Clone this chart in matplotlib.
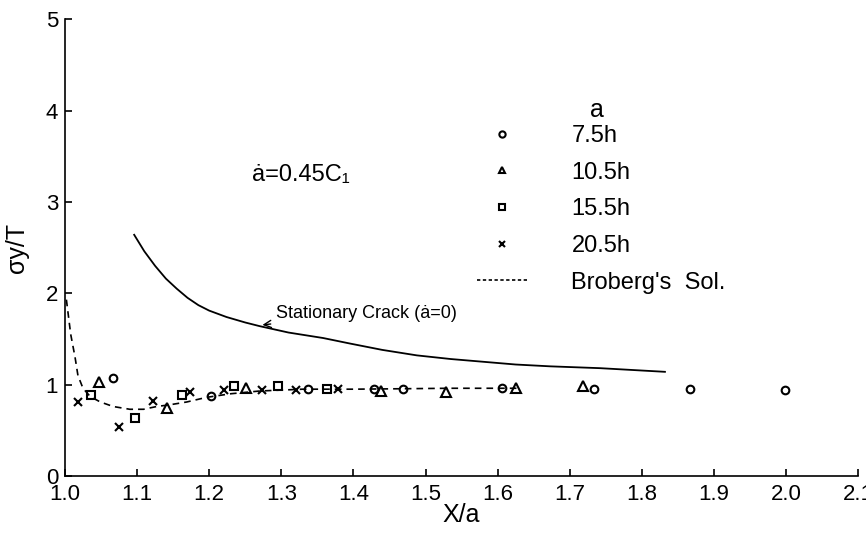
import matplotlib
matplotlib.use('Agg')
import matplotlib.pyplot as plt
from matplotlib.lines import Line2D

plt.rcParams['font.family'] = ['Liberation Sans', 'DejaVu Sans']

# measured points, grouped by crack length a
x_75 = [1.067, 1.203, 1.337, 1.428, 1.469, 1.606, 1.733, 1.867, 1.999]
y_75 = [1.07, 0.87, 0.95, 0.95, 0.95, 0.96, 0.95, 0.95, 0.94]

x_105 = [1.047, 1.142, 1.251, 1.438, 1.529, 1.626, 1.719]
y_105 = [1.03, 0.74, 0.96, 0.93, 0.92, 0.96, 0.98]

x_155 = [1.036, 1.097, 1.162, 1.234, 1.296, 1.363]
y_155 = [0.89, 0.63, 0.89, 0.98, 0.98, 0.95]

x_205 = [1.018, 1.075, 1.122, 1.173, 1.220, 1.273, 1.321, 1.379]
y_205 = [0.81, 0.54, 0.82, 0.92, 0.94, 0.94, 0.94, 0.95]

# Broberg's solution (dashed)
x_brob = [1.002, 1.008, 1.014, 1.018, 1.025, 1.035, 1.049, 1.067, 1.090, 1.109,
          1.127, 1.146, 1.169, 1.196, 1.23, 1.27, 1.33, 1.40, 1.47, 1.534, 1.627]
y_brob = [1.93, 1.55, 1.30, 1.10, 0.96, 0.87, 0.81, 0.76, 0.73, 0.73,
          0.76, 0.78, 0.81, 0.86, 0.90, 0.93, 0.95, 0.95, 0.955, 0.96, 0.96]

# stationary crack (solid)
x_stat = [1.096, 1.110, 1.125, 1.140, 1.155, 1.170, 1.185, 1.200, 1.224, 1.250, 1.270,
          1.310, 1.358, 1.395, 1.440, 1.488, 1.535, 1.580, 1.625, 1.673, 1.742, 1.832]
y_stat = [2.64, 2.46, 2.30, 2.16, 2.05, 1.95, 1.87, 1.81, 1.74, 1.68, 1.64,
          1.57, 1.51, 1.45, 1.38, 1.32, 1.28, 1.25, 1.22, 1.20, 1.18, 1.14]

xticks = [1.0, 1.1, 1.2, 1.3, 1.4, 1.5, 1.6, 1.7, 1.8, 1.9, 2.0, 2.1]
yticks = [0, 1, 2, 3, 4, 5]

fig = plt.figure(figsize=(8.66, 5.33), dpi=100)
ax = fig.add_axes([0.075, 0.107, 0.916, 0.857])

ax.plot(x_stat, y_stat, color='black', lw=1.3)
ax.plot(x_brob, y_brob, color='black', lw=1.2, ls=(0, (4, 3)))

mk = dict(ls='none', mfc='none', mec='black', color='black', mew=1.5)
ax.plot(x_75, y_75, marker='o', ms=5.5, **mk)
ax.plot(x_105, y_105, marker='^', ms=6.5, **mk)
ax.plot(x_155, y_155, marker='s', ms=6, **mk)
ax.plot(x_205, y_205, marker='x', ms=6, **mk)

ax.set_xlim(1.0, 2.1)
ax.set_ylim(0, 5)
ax.set_xticks(xticks)
ax.set_xticklabels(['%.1f' % v for v in xticks])
ax.set_yticks(yticks)
for s in ['top', 'right']:
	ax.spines[s].set_visible(False)
for s in ['left', 'bottom']:
	ax.spines[s].set_linewidth(1.2)
ax.tick_params(direction='in', length=5, width=1.2, labelsize=16)
ax.tick_params(axis='x', pad=6)
ax.tick_params(axis='y', pad=5)

ax.set_xlabel('X/a', fontsize=18, labelpad=-2)
ax.set_ylabel('σy/T', fontsize=18, labelpad=12)

ax.text(1.26, 3.29, 'ȧ=0.45C₁', fontsize=17, va='center', ha='left')
ax.annotate('Stationary Crack (ȧ=0)', xy=(1.270, 1.65), xytext=(1.293, 1.78),
            fontsize=13, va='center', ha='left',
            arrowprops=dict(arrowstyle='->', color='black', lw=1))

handles = [Line2D([], [], marker='o', ms=4.5, **mk),
           Line2D([], [], marker='^', ms=4.5, **mk),
           Line2D([], [], marker='s', ms=4.5, **mk),
           Line2D([], [], marker='x', ms=4.5, **mk),
           Line2D([], [], color='black', lw=1.2, ls=(0, (2, 1.5)))]
labels = ['7.5h', '10.5h', '15.5h', '20.5h', "Broberg's  Sol."]
leg = ax.legend(handles, labels, loc='upper left', bbox_to_anchor=(477/866, 1-125/533),
                bbox_transform=fig.transFigure, frameon=False, fontsize=17,
                handlelength=2.1, handletextpad=1.9, labelspacing=0.62,
                borderpad=0, borderaxespad=0)
fig.text(597/866, 1-110/533, 'a', fontsize=18, ha='center', va='center')

fig.savefig('out.png', dpi=100)
